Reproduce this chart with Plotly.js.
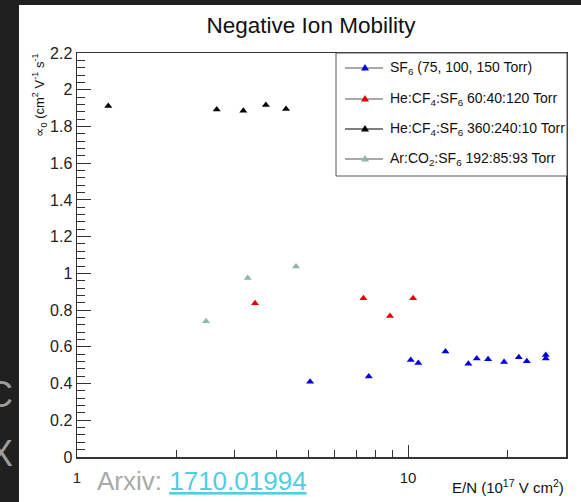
<!DOCTYPE html>
<html>
<head>
<meta charset="utf-8">
<script src="https://cdn.plot.ly/plotly-3.0.1.min.js"></script>
<style>
  html, body { margin: 0; padding: 0; background: #202020; }
  #chart { width: 581px; height: 502px; }
</style>
</head>
<body>
<div id="chart"></div>
<script>
// Reduced mobility measurements vs. reduced field E/N
const sf6X   = [5.06, 7.61, 10.19, 10.74, 12.97, 15.21, 16.13, 17.45, 19.5, 21.6, 22.84, 26.06, 26.06];
const sf6Y   = [0.410, 0.439, 0.528, 0.512, 0.574, 0.508, 0.537, 0.532, 0.517, 0.543, 0.521, 0.556, 0.537];
const heLowX = [3.45, 7.33, 8.82, 10.36];
const heLowY = [0.837, 0.864, 0.768, 0.864];
const heHiX  = [1.243, 2.643, 3.18, 3.72, 4.28];
const heHiY  = [1.912, 1.892, 1.885, 1.917, 1.895];
const arX    = [2.454, 3.279, 4.587];
const arY    = [0.739, 0.975, 1.037];

const seriesNames = [
  'SF<sub>6</sub> (75, 100, 150 Torr)',
  'He:CF<sub>4</sub>:SF<sub>6</sub> 60:40:120 Torr',
  'He:CF<sub>4</sub>:SF<sub>6</sub> 360:240:10 Torr',
  'Ar:CO<sub>2</sub>:SF<sub>6</sub> 192:85:93 Torr'
];

const yTickVals = [0, 0.2, 0.4, 0.6, 0.8, 1, 1.2, 1.4, 1.6, 1.8, 2, 2.2];
const yTickText = ['0', '0.2', '0.4', '0.6', '0.8', '1', '1.2', '1.4', '1.6', '1.8', '2', '2.2'];
const xTickVals = [1, 10];
const xTickText = ['1', '10'];
const xMinorVals = [2, 3, 4, 5, 6, 7, 8, 9, 20, 30];

const colors = ['#0000dd', '#e60000', '#000000', '#8cb8a4'];
const legendLineColors = ['#555555', '#555555', '#000000', '#555555'];

// plot-area geometry in pixels
const W = 581, H = 502;
const L = 77, R = 566, T = 53, B = 457;
const px = x => (x - L) / (R - L);
const py = y => (B - y) / (B - T);

function series(x, y, i) {
  return {
    x: x, y: y, type: 'scatter', mode: 'markers', name: seriesNames[i],
    showlegend: false,
    marker: { symbol: 'triangle-up', size: 7, color: colors[i], line: { width: 0 } },
    cliponaxis: false
  };
}

const data = [
  series(sf6X, sf6Y, 0),
  series(heLowX, heLowY, 1),
  series(heHiX, heHiY, 2),
  series(arX, arY, 3)
];

const axisFont = { family: 'Liberation Sans, Arial, sans-serif', size: 15, color: '#222' };

const shapes = [
  // white page region
  { type: 'rect', xref: 'paper', yref: 'paper', layer: 'below',
    x0: px(19), x1: px(W + 5), y0: py(H + 5), y1: py(5),
    fillcolor: '#ffffff', line: { width: 0 } },
  // legend frame
  { type: 'rect', xref: 'paper', yref: 'paper',
    x0: px(336), x1: px(567), y0: py(176), y1: py(53),
    fillcolor: '#ffffff', line: { color: '#555', width: 1 } }
];

const annotations = [];
const rowY = [68, 99, 129, 159];
rowY.forEach((ry, i) => {
  shapes.push({ type: 'line', xref: 'paper', yref: 'paper',
    x0: px(345), x1: px(383), y0: py(ry), y1: py(ry),
    line: { color: legendLineColors[i], width: 1.2 } });
  shapes.push({ type: 'path', xref: 'paper', yref: 'paper',
    xsizemode: 'pixel', ysizemode: 'pixel',
    xanchor: px(365), yanchor: py(ry),
    path: 'M-4,-2.5 L4,-2.5 L0,4 Z',
    fillcolor: colors[i], line: { width: 0 } });
  annotations.push({ xref: 'paper', yref: 'paper', x: px(388), y: py(ry),
    xanchor: 'left', yanchor: 'middle', showarrow: false,
    text: seriesNames[i],
    font: { family: 'Liberation Sans, Arial, sans-serif', size: 14, color: '#111' } });
});

// axis titles
annotations.push({ xref: 'paper', yref: 'paper', x: px(566), y: py(486),
  xanchor: 'right', yanchor: 'middle', showarrow: false,
  text: 'E/N (10<sup>17</sup> V cm<sup>2</sup>)',
  font: { family: 'Liberation Sans, Arial, sans-serif', size: 15, color: '#111' } });
annotations.push({ xref: 'paper', yref: 'paper', x: px(39), y: py(52),
  xanchor: 'center', yanchor: 'top', showarrow: false, textangle: -90,
  text: '∝<sub>0</sub> (cm<sup>2</sup> V<sup>-1</sup> s<sup>-1</sup>',
  font: { family: 'Liberation Sans, Arial, sans-serif', size: 13, color: '#111' } });

// source line
annotations.push({ xref: 'paper', yref: 'paper', x: px(95), y: py(481),
  xanchor: 'left', yanchor: 'middle', showarrow: false,
  text: '<span style="color:#a9a9a9">Arxiv: </span><span style="color:#4fcfe0"><u>1710.01994</u></span>',
  font: { family: 'Liberation Sans, Arial, sans-serif', size: 26 } });

// slide letters at the left edge
annotations.push({ xref: 'paper', yref: 'paper', x: px(15), y: py(394),
  xanchor: 'right', yanchor: 'middle', showarrow: false, text: 'C',
  font: { family: 'Liberation Sans, Arial, sans-serif', size: 36, color: '#9c9c9c' } });
annotations.push({ xref: 'paper', yref: 'paper', x: px(15), y: py(453),
  xanchor: 'right', yanchor: 'middle', showarrow: false, text: 'X',
  font: { family: 'Liberation Sans, Arial, sans-serif', size: 36, color: '#9c9c9c' } });

const layout = {
  width: W, height: H,
  margin: { l: L, r: W - R, t: T, b: H - B, pad: 0 },
  paper_bgcolor: '#202020',
  plot_bgcolor: 'rgba(0,0,0,0)',
  showlegend: false,
  title: {
    text: 'Negative Ion Mobility',
    x: 311 / W, xanchor: 'center',
    y: 1 - 25 / H, yanchor: 'middle',
    font: { family: 'Liberation Sans, Arial, sans-serif', size: 22.5, color: '#111' }
  },
  xaxis: {
    type: 'log', range: [0, Math.log10(30)],
    tickmode: 'array', tickvals: xTickVals, ticktext: xTickText,
    ticks: 'inside', ticklen: 12, tickwidth: 1, tickcolor: '#333',
    ticklabelstandoff: 6,
    minor: { tickmode: 'array', tickvals: xMinorVals, ticks: 'inside', ticklen: 7,
             tickwidth: 1, tickcolor: '#333', showgrid: false },
    showline: true, linecolor: '#333', linewidth: 1.5, mirror: true,
    showgrid: false, zeroline: false,
    tickfont: axisFont
  },
  yaxis: {
    range: [0, 2.2],
    tickmode: 'array', tickvals: yTickVals, ticktext: yTickText,
    ticks: 'inside', ticklen: 14, tickwidth: 1, tickcolor: '#333',
    ticklabelstandoff: 0,
    minor: { tickmode: 'linear', tick0: 0, dtick: 0.04, ticks: 'inside', ticklen: 8,
             tickwidth: 1, tickcolor: '#333', showgrid: false },
    showline: true, linecolor: '#333', linewidth: 1.5, mirror: true,
    showgrid: false, zeroline: false,
    tickfont: { family: 'Liberation Sans, Arial, sans-serif', size: 16, color: '#222' }
  },
  shapes: shapes,
  annotations: annotations
};

Plotly.newPlot('chart', data, layout, { displayModeBar: false, staticPlot: true });
</script>
</body>
</html>
